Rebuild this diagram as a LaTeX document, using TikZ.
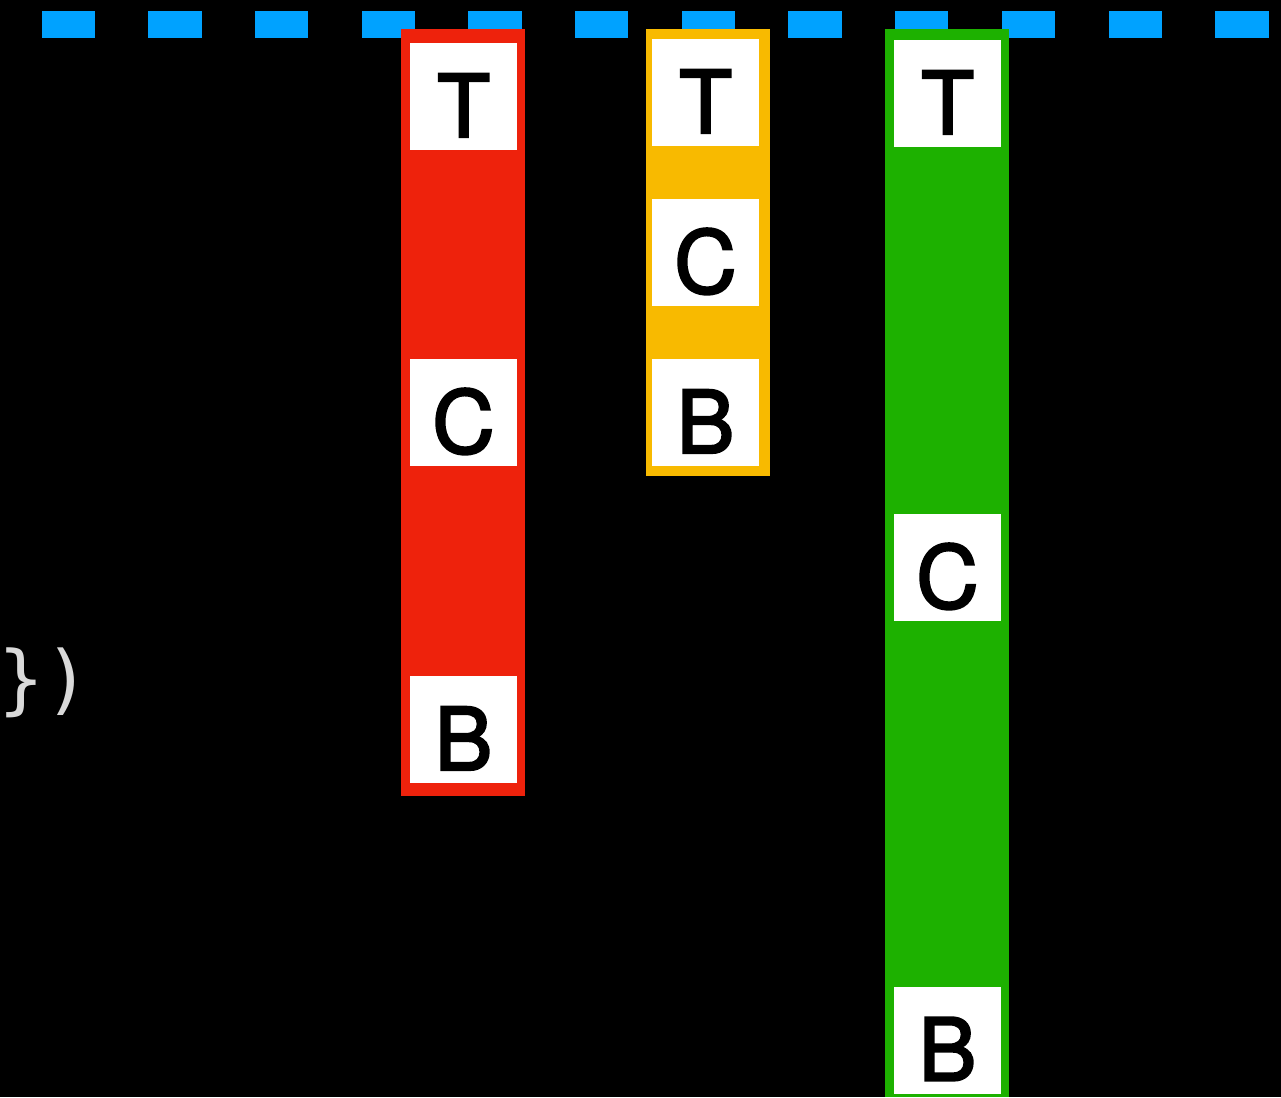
\documentclass[tikz,border=0pt]{standalone}
\usepackage{fontspec}
\setmainfont{TeX Gyre Heros}[FakeBold=2.5]
\newfontfamily\codefont{DejaVu Sans Mono}
\usepackage{tikz}
\usetikzlibrary{positioning}
\definecolor{kblue}{HTML}{00A2FF}
\definecolor{kred}{HTML}{EE220C}
\definecolor{kyellow}{HTML}{F8BA00}
\definecolor{kgreen}{HTML}{1DB100}
\definecolor{kcode}{HTML}{D9D9D9}

\begin{document}
\begin{tikzpicture}[x=0.75pt, y=-0.75pt,
  cell/.style={fill=white, inner sep=0pt, minimum width=80.25pt,
    text height=70.5pt, text depth=9.75pt, font=\fontsize{65}{65}\selectfont}]
  \fill[black] (0,0) rectangle (1281,1097);
  \useasboundingbox (0,0) rectangle (1281,1097);
  % dashed top line
  \foreach \i in {0,...,11}
    \fill[kblue] ({41.5+106.7*\i},11) rectangle ++(53.3,27);
  % columns
  \fill[kred] (401,29) rectangle (525,796);
  \fill[kyellow] (646,29) rectangle (770,476);
  \fill[kgreen] (885,29) rectangle (1009,1097);
  \node[cell] (redT) at (463.5,96.5) {T};
  \node[cell] (redC) at (463.5,412.5) {C};
  \node[cell] (redB) at (463.5,729.5) {B};
  \node[cell] (yelT) at (705.5,92.5) {T};
  \node[cell] (yelC) at (705.5,252.5) {C};
  \node[cell] (yelB) at (705.5,412.5) {B};
  \node[cell] (grnT) at (947.5,93.5) {T};
  \node[cell] (grnC) at (947.5,567.5) {C};
  \node[cell] (grnB) at (947.5,1040) {B};
  \node[anchor=base west, inner sep=0pt, text=kcode,
    font=\codefont\fontsize{57}{57}\selectfont] (code) at (-2,705) {\})};
\end{tikzpicture}
\end{document}
